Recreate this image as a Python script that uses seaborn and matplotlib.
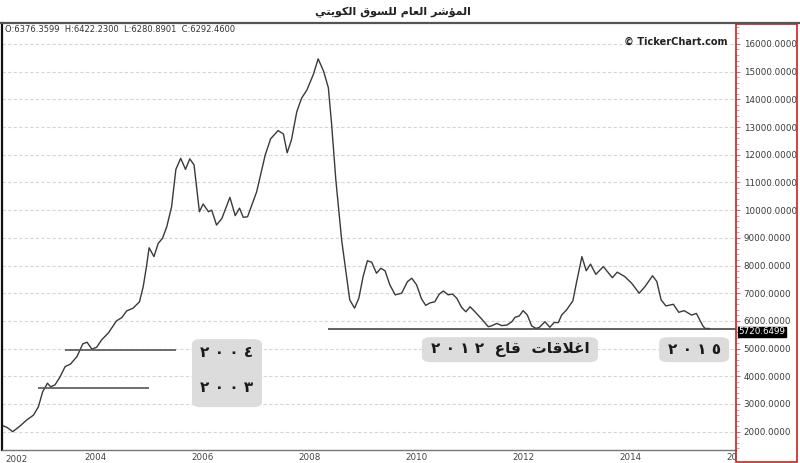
import numpy as np
import pandas as pd
import matplotlib
matplotlib.use("Agg")
import matplotlib.pyplot as plt
import matplotlib.transforms as mtransforms
from matplotlib.patches import Rectangle, FancyBboxPatch
from matplotlib.lines import Line2D
import seaborn as sns

# ---- data ----
dates = [2002.52, 2002.59, 2002.70, 2002.84, 2002.96, 2003.09, 2003.18, 2003.26, 2003.35, 2003.41,
         2003.49, 2003.58, 2003.68, 2003.78, 2003.90, 2004.01, 2004.09, 2004.18, 2004.27, 2004.36,
         2004.49, 2004.64, 2004.74, 2004.83, 2004.95, 2005.07, 2005.14, 2005.20, 2005.25, 2005.34,
         2005.42, 2005.50, 2005.58, 2005.67, 2005.75, 2005.84, 2005.93, 2006.01, 2006.09, 2006.19,
         2006.26, 2006.36, 2006.42, 2006.51, 2006.61, 2006.76, 2006.86, 2006.94, 2007.01, 2007.09,
         2007.26, 2007.42, 2007.52, 2007.66, 2007.76, 2007.83, 2007.91, 2008.01, 2008.10, 2008.20,
         2008.32, 2008.41, 2008.51, 2008.60, 2008.66, 2008.74, 2008.85, 2008.94, 2009.00, 2009.09,
         2009.17, 2009.25, 2009.33, 2009.41, 2009.50, 2009.58, 2009.66, 2009.75, 2009.85, 2009.97,
         2010.08, 2010.16, 2010.25, 2010.34, 2010.42, 2010.50, 2010.59, 2010.67, 2010.75, 2010.84,
         2010.92, 2011.00, 2011.09, 2011.17, 2011.25, 2011.34, 2011.47, 2011.59, 2011.65, 2011.75,
         2011.84, 2011.94, 2012.03, 2012.09, 2012.17, 2012.24, 2012.32, 2012.40, 2012.48, 2012.54,
         2012.65, 2012.74, 2012.82, 2012.90, 2012.96, 2013.05, 2013.17, 2013.24, 2013.34, 2013.42,
         2013.50, 2013.60, 2013.74, 2013.91, 2014.00, 2014.14, 2014.27, 2014.41, 2014.52, 2014.66,
         2014.74, 2014.82, 2014.91, 2015.05, 2015.15, 2015.25, 2015.39, 2015.48, 2015.60, 2015.64,
         2015.73]
values = [2210, 2160, 2000, 2210, 2420, 2600, 2900, 3440, 3750, 3620,
          3690, 3960, 4350, 4440, 4710, 5170, 5230, 4980, 5050, 5310,
          5570, 6000, 6120, 6360, 6460, 6690, 7240, 7960, 8640, 8320,
          8800, 8980, 9400, 10120, 11470, 11870, 11470, 11850, 11630, 9940,
          10220, 9940, 10000, 9460, 9700, 10460, 9800, 10070, 9740, 9760,
          10660, 11990, 12570, 12870, 12750, 12070, 12530, 13550, 14040, 14340,
          14900, 15460, 15020, 14420, 13130, 11090, 8900, 7600, 6760, 6460,
          6820, 7600, 8170, 8120, 7720, 7900, 7810, 7300, 6940, 7000,
          7420, 7540, 7300, 6800, 6560, 6650, 6690, 6960, 7080, 6940,
          6970, 6820, 6490, 6330, 6510, 6330, 6060, 5790, 5820, 5910,
          5830, 5850, 5970, 6130, 6180, 6370, 6210, 5820, 5730, 5760,
          5970, 5770, 5940, 5940, 6210, 6390, 6720, 7400, 8320, 7810,
          8050, 7680, 7960, 7560, 7760, 7600, 7360, 7000, 7240, 7630,
          7420, 6760, 6540, 6600, 6310, 6370, 6210, 6270, 5820, 5730,
          5721]

last_close = 5720.6499
ohlc_text = "O:6376.3599  H:6422.2300  L:6280.8901  C:6292.4600"

# support lines: (level, start, end)
support_2003 = (3590, 2003.18, 2005.25)
support_2004 = (4950, 2003.68, 2005.75)
low_2012_start = 2008.60

y_ticks = list(range(2000, 17000, 1000))
x_ticks = [2004, 2006, 2008, 2010, 2012, 2014, 2016]
x_labels = ["2004", "2006", "2008", "2010", "2012", "2014", "20"]

title = "المؤشر العام للسوق الكويتي"
label_low = "اغلاقات قاع ٢٠١٢"
label_2015 = "٢٠١٥"
label_2004 = "٢٠٠٤"
label_2003 = "٢٠٠٣"

# ---- minimal Arabic shaping (matplotlib has no shaping engine) ----
FORMS = {  # isolated, final, initial, medial
    'ا': ('\uFE8D', '\uFE8E', None, None),
    'ؤ': ('\uFE85', '\uFE86', None, None),
    'ر': ('\uFEAD', '\uFEAE', None, None),
    'و': ('\uFEED', '\uFEEE', None, None),
    'لا': ('\uFEFB', '\uFEFC', None, None),
    'ت': ('\uFE95', '\uFE96', '\uFE97', '\uFE98'),
    'س': ('\uFEB1', '\uFEB2', '\uFEB3', '\uFEB4'),
    'ش': ('\uFEB5', '\uFEB6', '\uFEB7', '\uFEB8'),
    'ع': ('\uFEC9', '\uFECA', '\uFECB', '\uFECC'),
    'غ': ('\uFECD', '\uFECE', '\uFECF', '\uFED0'),
    'ق': ('\uFED5', '\uFED6', '\uFED7', '\uFED8'),
    'ك': ('\uFED9', '\uFEDA', '\uFEDB', '\uFEDC'),
    'ل': ('\uFEDD', '\uFEDE', '\uFEDF', '\uFEE0'),
    'م': ('\uFEE1', '\uFEE2', '\uFEE3', '\uFEE4'),
    'ي': ('\uFEF1', '\uFEF2', '\uFEF3', '\uFEF4'),
}


def dual(c):
    return c in FORMS and FORMS[c][2] is not None


def shape_word(w):
    chars, i = [], 0
    while i < len(w):
        if w[i] == 'ل' and i + 1 < len(w) and w[i + 1] == 'ا':
            chars.append('لا')
            i += 2
        else:
            chars.append(w[i])
            i += 1
    out = []
    for k, c in enumerate(chars):
        if c not in FORMS:
            out.append(c)
            continue
        jp = k > 0 and dual(chars[k - 1])
        jn = k + 1 < len(chars) and dual(c) and chars[k + 1] in FORMS
        if jp and jn:
            out.append(FORMS[c][3])
        elif jp:
            out.append(FORMS[c][1])
        elif jn:
            out.append(FORMS[c][2])
        else:
            out.append(FORMS[c][0])
    return ''.join(out)


def visual(text, spaced_digits=False):
    words = []
    for w in text.split(' '):
        if all('\u0660' <= ch <= '\u0669' for ch in w):
            words.append(' '.join(w) if spaced_digits else w)
        else:
            words.append(shape_word(w)[::-1])
    sep = '  ' if spaced_digits else ' '
    return sep.join(reversed(words))


# ---- plot ----
sns.set_style("white")
plt.rcParams['font.family'] = ['DejaVu Sans']

W, H = 800, 463
fig = plt.figure(figsize=(8, 4.63), dpi=100)
ax = fig.add_axes([2 / W, 1 - 450 / H, 734 / W, 427 / H])

df = pd.DataFrame({"date": dates, "value": values})
sns.lineplot(data=df, x="date", y="value", ax=ax, color="#3a3a3a", linewidth=1.0)

ax.set_xlim(2002.5, 2016.22)
ax.set_ylim(1339, 16755)
ax.set_xlabel("")
ax.set_ylabel("")

# support / resistance lines
ax.hlines(support_2003[0], support_2003[1], support_2003[2], color="#555555", lw=1.2)
ax.hlines(support_2004[0], support_2004[1], support_2004[2], color="#555555", lw=1.2)
ax.hlines(last_close, low_2012_start, 2016.22, color="#444444", lw=1.2)

# grid and y axis on the right
ax.set_yticks(y_ticks)
ax.set_yticklabels([f"{v:.4f}" for v in y_ticks])
ax.yaxis.tick_right()
ax.set_yticks(np.arange(1400, 16800, 200), minor=True)
ax.tick_params(axis="y", which="major", length=3, color="#d07070", pad=2.5,
               labelsize=6.3, labelcolor="#3a3a3a")
ax.tick_params(axis="y", which="minor", length=2, color="#d09090", right=True)
ax.yaxis.grid(True, which="major", color="#d6d6d6", ls=(0, (3, 2)), lw=0.8)
ax.xaxis.grid(False)

ax.set_xticks(x_ticks)
ax.set_xticklabels(x_labels)
ax.tick_params(axis="x", direction="in", length=4, color="#777777", pad=2,
               labelsize=6.3, labelcolor="#444444")
offset = mtransforms.ScaledTranslation(2 / 100, 0, fig.dpi_scale_trans)
for lab in ax.get_xticklabels():
    lab.set_ha("left")
    lab.set_transform(lab.get_transform() + offset)
ax.text(0.004, -0.012, "2002", transform=ax.transAxes, ha="left", va="top",
        fontsize=6.3, color="#444444")

for s in ["top", "right"]:
    ax.spines[s].set_visible(False)
ax.spines["left"].set_color("#111111")
ax.spines["left"].set_linewidth(1.6)
ax.spines["bottom"].set_color("#777777")
ax.spines["bottom"].set_linewidth(1.0)

# header texts
ax.text(0.004, 0.985, ohlc_text, transform=ax.transAxes, ha="left", va="center",
        fontsize=6, color="#333333")
ax.text(0.989, 0.955, "© TickerChart.com", transform=ax.transAxes, ha="right",
        va="center", fontsize=7, fontweight="bold", color="#222222")

# last value tag
blend = mtransforms.blended_transform_factory(ax.transAxes, ax.transData)
ax.text(1.003, last_close - 120, f"{last_close:.4f}", transform=blend, ha="left",
        va="center", fontsize=6.3, color="white",
        bbox=dict(boxstyle="square,pad=0.08", fc="black", ec="black"))

# annotation boxes (axes fraction)
def box(cx, cy, w, h):
    ax.add_patch(FancyBboxPatch((cx - w / 2, cy - h / 2), w, h, transform=ax.transAxes,
                                boxstyle="round,pad=0,rounding_size=0.012",
                                fc="#dcdcdc", ec="none", zorder=3))

box(0.692, 0.235, 176 / 734, 25 / 427)
box(0.943, 0.235, 70 / 734, 25 / 427)
box(0.3065, 0.180, 70 / 734, 68 / 427)

txt = dict(transform=ax.transAxes, ha="center", va="center", fontsize=11,
           fontweight="bold", color="#1a1a1a", zorder=4)
ax.text(0.692, 0.235, visual(label_low, spaced_digits=True), **txt)
ax.text(0.943, 0.235, visual(label_2015, spaced_digits=True), **txt)
ax.text(0.3065, 0.2295, visual(label_2004, spaced_digits=True), **txt)
ax.text(0.3065, 0.1452, visual(label_2003, spaced_digits=True), **txt)

# frame pieces outside the axes
fig.add_artist(Line2D([0, 1], [1 - 23 / H, 1 - 23 / H], transform=fig.transFigure,
                      color="#555555", lw=1.6))
fig.add_artist(Rectangle((736 / W, 1 - 462 / H), 61 / W, 438 / H, transform=fig.transFigure,
                         fill=False, ec="#cc2020", lw=1.2))
fig.text(393 / W, 1 - 12 / H, visual(title), ha="center", va="center",
         fontsize=8, fontweight="bold", color="#222222")

fig.savefig("out.png", dpi=100)
